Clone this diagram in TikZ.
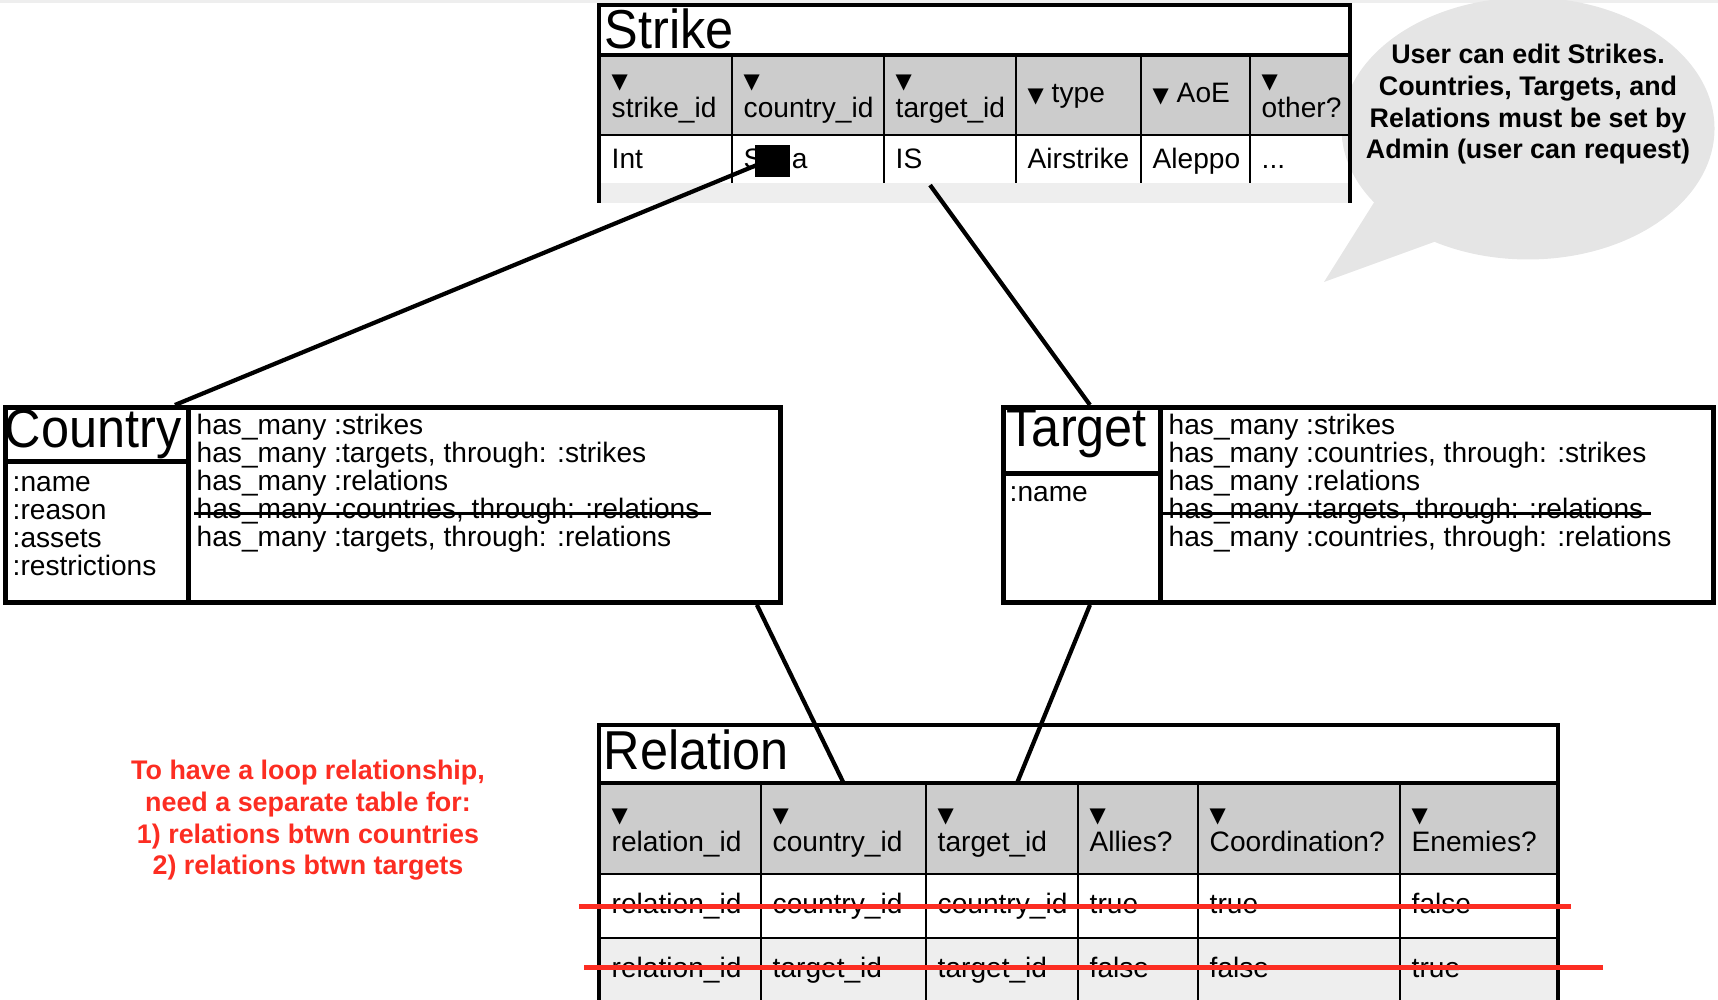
\documentclass[tikz,border=0pt]{standalone}
\usepackage{fontspec}
\setmainfont{Liberation Sans}
\newfontfamily\titlefont[FakeStretch=0.92]{Liberation Sans}
\newfontfamily\trifont{DejaVu Sans}
\usetikzlibrary{calc}

\definecolor{hdrgray}{HTML}{CCCCCC}
\definecolor{rowgray}{HTML}{EEEEEE}
\definecolor{bubblegray}{HTML}{E5E5E5}
\definecolor{notered}{RGB}{252,45,34}

\newcommand{\tri}{{\trifont\fontsize{6}{6}\selectfont ▼}}
\newcommand{\etcdots}{...}

\tikzset{
  frame/.style={line width=1pt},
  boxline/.style={draw, line width=1.4pt, anchor=north west, inner sep=0pt},
  cell/.style={draw, line width=0.6pt, anchor=north west, inner sep=0pt},
  hdr/.style={cell, fill=hdrgray},
  tabtitle/.style={anchor=base west, inner sep=0pt, font=\titlefont\fontsize{15.6}{15.6}\selectfont},
  body/.style={anchor=base west, inner sep=0pt, font=\fontsize{8}{8}\selectfont},
  link/.style={line width=1.2pt},
  strikeout/.style={line width=1pt},
  redout/.style={line width=1.3pt, draw=notered},
  note/.style={font=\bfseries\fontsize{7.65}{9.05}\selectfont, align=center, inner sep=0pt}
}

\begin{document}
\begin{tikzpicture}
\useasboundingbox (0,0) rectangle (17.18,10);
\fill[rowgray] (0,9.965) rectangle (17.18,10);

% speech bubble
\fill[bubblegray] (15.28,8.715) ellipse [x radius=1.865, y radius=1.31];
\fill[bubblegray] (13.85,8.15) -- (13.24,7.18) -- (14.45,7.62) -- cycle;
\node[note] (admin-note) at (15.28,8.957) {User can edit Strikes.\\Countries, Targets, and\\Relations must be set by\\Admin (user can request)};

% Strike table
\foreach \xa/\xb/\hd/\dt/\nl [count=\i] in {
    5.99/7.31/strike\_id/Int/2,
    7.31/8.83/country\_id/{S\kern-0.077cm\rule[-0.09cm]{0.35cm}{0.327cm}\kern0.02cm a}/2,
    8.83/10.15/target\_id/IS/2,
    10.15/11.40/type/Airstrike/1,
    11.40/12.49/AoE/Aleppo/1,
    12.49/13.50/other?/{\etcdots}/2} {
    \pgfmathsetmacro\w{\xb-\xa}
    \node[hdr, minimum width=\w cm, minimum height=0.79cm] (s-h\i) at (\xa,9.45) {};
    \node[cell, minimum width=\w cm, minimum height=0.49cm] (s-d\i) at (\xa,8.66) {};
    \ifnum\nl=2
        \node[body] (s-ht\i) at ($(s-h\i.north west)+(0.12,-0.34)$) {\tri};
        \node[body] (s-hl\i) at ($(s-h\i.north west)+(0.12,-0.63)$) {\hd};
    \else
        \node[body] (s-hl\i) at ($(s-h\i.north west)+(0.12,-0.48)$) {\tri\ \hd};
    \fi
    \node[body] (s-dl\i) at ($(s-d\i.north west)+(0.12,-0.345)$) {\dt};
}
\fill[rowgray] (5.99,8.17) rectangle (13.50,7.97);
\draw[frame] (5.99,7.97) -- (5.99,9.95) -- (13.50,9.95) -- (13.50,7.97);
\draw[frame] (5.99,9.45) -- (13.50,9.45);
\node[tabtitle] (s-name) at (6.04,9.51) {Strike};

% Country
\node[boxline, minimum width=1.83cm, minimum height=0.54cm] (c-title) at (0.03,5.95) {};
\node[boxline, minimum width=1.83cm, minimum height=1.41cm] (c-attr) at (0.03,5.41) {};
\node[boxline, minimum width=5.92cm, minimum height=1.95cm] (c-rel) at (1.86,5.95) {};
\node[tabtitle] (c-name) at (0.04,5.52) {Country};
\foreach \t [count=\i] in {:name, :reason, :assets, :restrictions}
    \node[body] (c-a\i) at (0.12,{5.083-0.278*(\i-1)}) {\t};
\foreach \t [count=\i] in {has\_many :strikes, {has\_many :targets, through: :strikes},
    has\_many :relations, {has\_many :countries, through: :relations},
    {has\_many :targets, through: :relations}}
    \node[body] (c-r\i) at (1.96,{5.65-0.278*(\i-1)}) {\t};
\draw[strikeout] (1.94,4.867) -- (7.11,4.867);

% Target
\node[boxline, minimum width=1.57cm, minimum height=0.66cm] (t-title) at (10.01,5.95) {};
\node[boxline, minimum width=1.57cm, minimum height=1.29cm] (t-attr) at (10.01,5.29) {};
\node[boxline, minimum width=5.53cm, minimum height=1.95cm] (t-rel) at (11.58,5.95) {};
\node[tabtitle] (t-name) at (10.06,5.533) {Target};
\node[body] (t-a1) at (10.09,4.983) {:name};
\foreach \t [count=\i] in {has\_many :strikes, {has\_many :countries, through: :strikes},
    has\_many :relations, {has\_many :targets, through: :relations},
    {has\_many :countries, through: :relations}}
    \node[body] (t-r\i) at (11.68,{5.65-0.278*(\i-1)}) {\t};
\draw[strikeout] (11.61,4.867) -- (16.51,4.867);

% Relation table
\foreach \xa/\xb/\hd/\ra/\rb [count=\i] in {
    5.99/7.60/relation\_id/relation\_id/relation\_id,
    7.60/9.25/country\_id/country\_id/target\_id,
    9.25/10.77/target\_id/country\_id/target\_id,
    10.77/11.97/Allies?/true/false,
    11.97/13.99/Coordination?/true/false,
    13.99/15.58/Enemies?/false/true} {
    \pgfmathsetmacro\w{\xb-\xa}
    \node[hdr, minimum width=\w cm, minimum height=0.90cm] (r-h\i) at (\xa,2.17) {};
    \node[cell, minimum width=\w cm, minimum height=0.64cm] (r-a\i) at (\xa,1.27) {};
    \node[cell, fill=rowgray, minimum width=\w cm, minimum height=0.70cm] (r-b\i) at (\xa,0.63) {};
    \node[body] (r-ht\i) at ($(r-h\i.north west)+(0.12,-0.40)$) {\tri};
    \node[body] (r-hl\i) at ($(r-h\i.north west)+(0.12,-0.69)$) {\hd};
    \node[body] (r-al\i) at ($(r-a\i.north west)+(0.12,-0.41)$) {\ra};
    \node[body] (r-bl\i) at ($(r-b\i.north west)+(0.12,-0.41)$) {\rb};
}
\draw[frame] (5.99,-0.1) -- (5.99,2.75) -- (15.58,2.75) -- (15.58,-0.1);
\draw[frame] (5.99,2.17) -- (15.58,2.17);
\node[tabtitle] (r-name) at (6.03,2.30) {Relation};
\draw[redout] (5.79,0.933) -- (15.71,0.933);
\draw[redout] (5.84,0.323) -- (16.03,0.323);

\node[note, text=notered] (loop-note) at (3.08,1.797) {To have a loop relationship,\\need a separate table for:\\1) relations btwn countries\\2) relations btwn targets};

% links
\draw[link] ($(s-d2.west)+(0.27,-0.05)$) -- ($(c-title.north east)+(-0.16,0)$);
\draw[link] ($(s-d3.south)+(-0.2,0)$) -- ($(t-title.north)+(0.08,0)$);
\draw[link] ($(c-rel.south east)+(-0.26,0)$) -- (r-h2.north);
\draw[link] ($(t-attr.south)+(0.08,0)$) -- ($(r-h3.north)+(0.15,0)$);
\end{tikzpicture}
\end{document}
